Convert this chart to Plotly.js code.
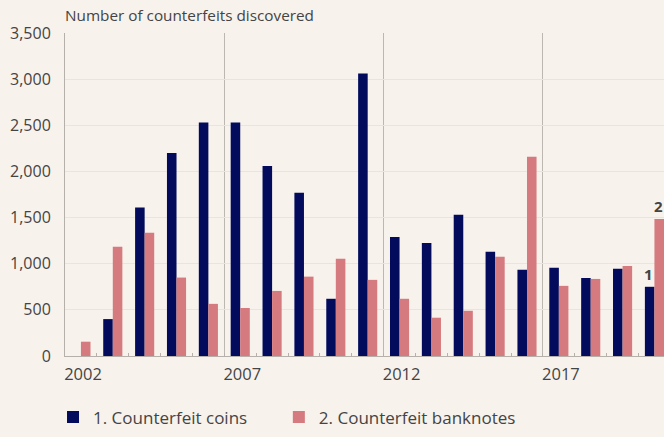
<!DOCTYPE html>
<html>
<head>
<meta charset="utf-8">
<script src="https://cdn.plot.ly/plotly-3.0.1.min.js"></script>
<style>
html,body{margin:0;padding:0;background:#f8f2ec;}
#chart{width:664px;height:437px;}
</style>
</head>
<body>
<div id="chart"></div>
<script>
const years = [2002,2003,2004,2005,2006,2007,2008,2009,2010,2011,2012,2013,2014,2015,2016,2017,2018,2019,2020];
const coins = [0,400,1610,2200,2530,2530,2060,1770,620,3060,1290,1225,1530,1130,935,955,845,945,750];
const banknotes = [155,1185,1335,850,565,520,705,860,1055,825,620,415,490,1075,2160,760,835,975,1485];
const seriesNames = ['1. Counterfeit coins','2. Counterfeit banknotes'];
const tickYears = ['2002','2007','2012','2017'];
const tickPositions = [2001.5,2006.5,2011.5,2016.5];

const navy = '#020b5c';
const pink = '#d57a7e';
const bg = '#f8f2ec';
const font = '"Open Sans", Lato, sans-serif';

const traces = [
  {type:'bar', x:years, y:coins, name:seriesNames[0], marker:{color:navy}, hoverinfo:'x+y', legend:'legend'},
  {type:'bar', x:years, y:banknotes, name:seriesNames[1], marker:{color:pink}, hoverinfo:'x+y', legend:'legend2'}
];

const legendFont = {family:font, size:17, color:'#444'};

const layout = {
  width:664, height:437,
  paper_bgcolor:bg, plot_bgcolor:bg,
  font:{family:font, color:'#444', size:15},
  margin:{l:65, r:0, t:33, b:81},
  barmode:'group', bargap:0.4, bargroupgap:0,
  separators:'.,',
  title:{text:'Number of counterfeits discovered', x:0, xref:'paper', xanchor:'left',
         y:1-16/437, yref:'container', yanchor:'middle', font:{family:font, size:15.3, color:'#444'}},
  xaxis:{type:'linear', range:[2001.5,2020.3], tickvals:tickPositions, ticktext:tickYears,
         ticks:'inside', ticklen:3, tickcolor:'#b5b0aa', showgrid:true, gridcolor:'#bcb7b1', gridwidth:1,
         showline:true, linecolor:'#b5b0aa', linewidth:1, zeroline:false,
         ticklabelshift:18, ticklabelstandoff:3,
         tickfont:{family:font, size:16.5, color:'#444'},
         minor:{tick0:2001.5, dtick:1, ticks:'inside', ticklen:3, tickcolor:'#b5b0aa', showgrid:false}},
  yaxis:{range:[0,3500], dtick:500, tickformat:',d', showgrid:true, gridcolor:'#ebe3dc', gridwidth:1,
         showline:true, linecolor:'#b5b0aa', linewidth:1, zeroline:false, ticks:'',
         ticklabelstandoff:10, tickfont:{family:font, size:16, color:'#444'}},
  showlegend:true,
  legend:{orientation:'h', x:-0.02, xanchor:'left', y:-0.19, yanchor:'middle', yref:'paper',
          font:legendFont, bgcolor:'rgba(0,0,0,0)'},
  legend2:{orientation:'h', x:0.357, xanchor:'left', y:-0.19, yanchor:'middle', yref:'paper',
          font:legendFont, bgcolor:'rgba(0,0,0,0)'},
  annotations:[
    {x:2020, y:coins[18], xref:'x', yref:'y', text:'<b>1</b>', showarrow:false, xshift:-6, yanchor:'bottom', yshift:1, font:{family:font, size:15, color:'#444'}},
    {x:2020, y:banknotes[18], xref:'x', yref:'y', text:'<b>2</b>', showarrow:false, xshift:4, yanchor:'bottom', yshift:1, font:{family:font, size:15, color:'#444'}}
  ]
};

Plotly.newPlot('chart', traces, layout, {displayModeBar:false, staticPlot:true});
</script>
</body>
</html>
